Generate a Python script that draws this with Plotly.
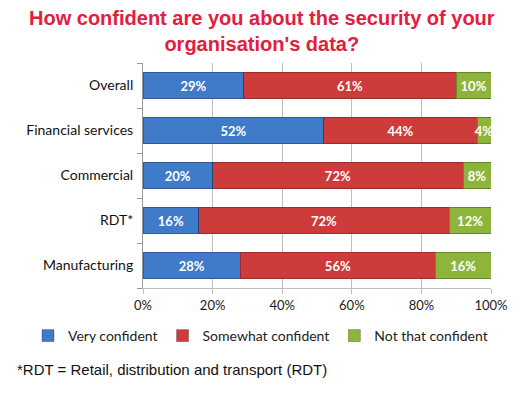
import plotly.graph_objects as go

categories = ["Overall", "Financial services", "Commercial", "RDT*", "Manufacturing"]
very_confident = [29, 52, 20, 16, 28]
somewhat_confident = [61, 44, 72, 72, 56]
not_that_confident = [10, 4, 8, 12, 16]
series_names = ["Very confident", "Somewhat confident", "Not that confident"]
colors = ["#3F7BC9", "#CD3B3B", "#8DB53C"]
tick_vals = [0, 20, 40, 60, 80, 100]
tick_text = ["0%", "20%", "40%", "60%", "80%", "100%"]

fig = go.Figure()
for name, vals, col in zip(series_names, [very_confident, somewhat_confident, not_that_confident], colors):
    fig.add_trace(go.Bar(
        y=categories, x=vals, name=name, orientation="h",
        marker=dict(color=col, line=dict(color="rgba(0,0,0,0.25)", width=1)),
        text=[f"{v}%" for v in vals], textposition="inside", insidetextanchor="middle",
        textangle=0,
        textfont=dict(color="white", size=13, family="Lato, Arial", weight="bold"),
        constraintext="none", cliponaxis=False,
    ))

# page body adds an 8px offset, so the figure is 8px smaller and shifted
fig.update_layout(
    barmode="stack", bargap=0.42,
    width=516, height=385,
    margin=dict(l=135, r=33, t=55, b=105, autoexpand=False),
    paper_bgcolor="white", plot_bgcolor="white",
    font=dict(family="Liberation Sans, Arial", color="#222"),
    showlegend=True,
    legend=dict(orientation="h", xref="paper", yref="paper",
                x=(20-135)/348, xanchor="left", y=-(328-280)/225, yanchor="middle",
                font=dict(size=14, family="Lato, Arial", color="#222"),
                traceorder="normal", itemwidth=30, tracegroupgap=0),
    uniformtext=dict(minsize=8, mode="show"),
)
fig.update_xaxes(range=[0, 100], tickvals=tick_vals, ticktext=tick_text,
                 showgrid=True, gridcolor="#BFBFBF", gridwidth=1,
                 ticks="outside", tickcolor="#BFBFBF", ticklen=5,
                 showline=True, linecolor="#BFBFBF", automargin=False,
                 tickfont=dict(size=13, family="Lato, Arial", color="#222"))
fig.update_yaxes(categoryorder="array", categoryarray=categories[::-1],
                 showline=True, linecolor="#999", ticks="outside", ticklen=5, tickcolor="#999",
                 tickson="boundaries", ticklabelstandoff=6, showgrid=False,
                 automargin=False,
                 tickfont=dict(size=14, family="Lato, Arial", color="#111"))

fig.add_annotation(text="<b>How confident are you about the security of your<br>organisation's data?</b>",
                   xref="paper", yref="paper", x=(262-143)/348, xanchor="center",
                   y=1 + (63-31)/225, yanchor="middle", showarrow=False, align="center",
                   font=dict(size=20, color="#E0203C", family="Liberation Sans, Arial"))

fig.add_annotation(text="*RDT = Retail, distribution and transport (RDT)",
                   xref="paper", yref="paper", x=(15-143)/348, xanchor="left",
                   y=-(369-288)/225, yanchor="middle", showarrow=False,
                   font=dict(size=15, family="Liberation Sans, Arial", color="#111"))

fig.write_html("out.html")
